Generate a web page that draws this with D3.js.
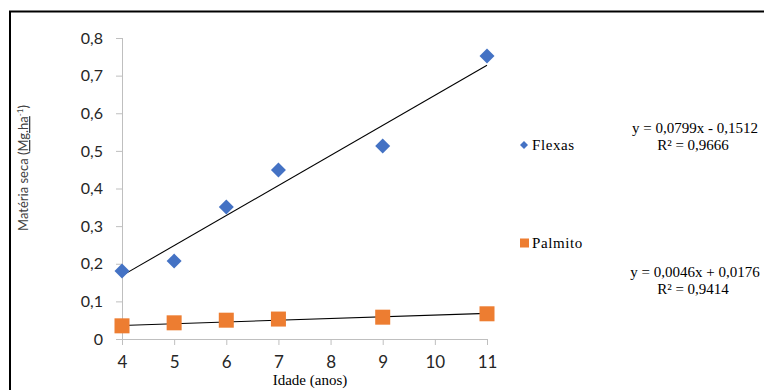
<!DOCTYPE html>
<html><head><meta charset="utf-8">
<script src="https://cdn.jsdelivr.net/npm/d3@7"></script>
<style>body{margin:0;background:#fff}svg{display:block}</style>
</head><body>
<script>
const ages = [4, 5, 6, 7, 9, 11];
const flexas = [0.181, 0.207, 0.351, 0.449, 0.513, 0.752];
const palmito = [0.035, 0.043, 0.050, 0.053, 0.058, 0.067];
const xTicks = [4, 5, 6, 7, 8, 9, 10, 11];
const yTicks = [0, 0.1, 0.2, 0.3, 0.4, 0.5, 0.6, 0.7, 0.8];
const seriesNames = ["Flexas", "Palmito"];
const slopes = [0.0799, 0.0046];
const intercepts = [-0.1512, 0.0176];
const eqLabels = ["y = 0,0799x - 0,1512", "y = 0,0046x + 0,0176"];
const r2Labels = ["R² = 0,9666", "R² = 0,9414"];
const colors = ["#4472c4", "#ed7d31"];

const W = 764, H = 390;
const svg = d3.select("body").append("svg").attr("width", W).attr("height", H);

// frame
svg.append("path").attr("d", `M10,${H} L10,11.5 L${W},11.5`).attr("fill","none").attr("stroke","#000").attr("stroke-width",2);

const x = d3.scaleLinear().domain([4, 11]).range([122, 487]);
const y = d3.scaleLinear().domain([0, 0.8]).range([339, 38]);
const fmt = d => d === 0 ? "0" : d3.format(".1f")(d).replace(".", ",");

const ya = svg.append("g").attr("transform", "translate(122,0)")
  .call(d3.axisLeft(y).tickValues(yTicks).tickFormat(fmt).tickSize(6).tickPadding(13));
const xa = svg.append("g").attr("transform", "translate(0,339)")
  .call(d3.axisBottom(x).tickValues(xTicks).tickFormat(d3.format("d")).tickSize(6).tickPadding(8));
[ya, xa].forEach(g => {
  g.selectAll("path,line").attr("stroke", "#bfbfbf");
  g.selectAll("text").attr("fill", "#262626").style("font-family", "Lato, 'Open Sans', sans-serif").style("font-size", "16px");
});
xa.selectAll("text").attr("dy", "0.9em").style("font-size", "17px");
ya.select(".domain").attr("d", "M0.5,38V339.5");

// trendlines
const series = [flexas, palmito];
series.forEach((s, i) => {
  svg.append("line")
    .attr("x1", x(4)).attr("y1", y(slopes[i] * 4 + intercepts[i]))
    .attr("x2", x(11)).attr("y2", y(slopes[i] * 11 + intercepts[i]))
    .attr("stroke", "#000").attr("stroke-width", 1.1);
});

// markers
const diamond = r => `M0,${-r}L${r},0L0,${r}L${-r},0Z`;
svg.append("g").selectAll("path").data(ages.map((a, i) => [a, flexas[i]])).join("path")
  .attr("transform", d => `translate(${x(d[0])},${y(d[1])})`)
  .attr("d", diamond(7.5)).attr("fill", colors[0]);
svg.append("g").selectAll("rect").data(ages.map((a, i) => [a, palmito[i]])).join("rect")
  .attr("x", d => x(d[0]) - 7.5).attr("y", d => y(d[1]) - 7.5)
  .attr("width", 15).attr("height", 15).attr("fill", colors[1]);

// axis titles
svg.append("text").attr("x", 310).attr("y", 385).attr("text-anchor", "middle")
  .style("font-family", "'Liberation Serif', serif").style("font-size", "15px").attr("fill", "#000")
  .text("Idade (anos)");
const yt = svg.append("text").attr("transform", "translate(28,168) rotate(-90)").attr("text-anchor", "middle")
  .style("font-family", "Lato, 'Open Sans', sans-serif").style("font-size", "13px").attr("fill", "#404040");
yt.append("tspan").text("Matéria seca (");
yt.append("tspan").style("text-decoration", "underline wavy #4472c4").text("Mg.ha");
yt.append("tspan").attr("dy", -5).style("font-size", "8px").text("-1");
yt.append("tspan").attr("dy", 5).text(")");

// legend
const legY = [145, 243];
svg.append("path").attr("transform", `translate(524,${legY[0]})`).attr("d", diamond(4)).attr("fill", colors[0]);
svg.append("rect").attr("x", 520).attr("y", legY[1] - 4.5).attr("width", 9).attr("height", 9).attr("fill", colors[1]);
seriesNames.forEach((n, i) => {
  svg.append("text").attr("x", 532).attr("y", legY[i] + 5)
    .style("font-family", "'Liberation Serif', serif").style("font-size", "15px").style("letter-spacing", "0.6px")
    .attr("fill", "#000").text(n);
});

// equations
const eqY = [133, 277];
eqLabels.forEach((t, i) => {
  svg.append("text").attr("x", 695).attr("y", eqY[i]).attr("text-anchor", "middle")
    .style("font-family", "'Liberation Serif', serif").style("font-size", "15px").attr("fill", "#000").text(t);
  svg.append("text").attr("x", 693).attr("y", eqY[i] + 17).attr("text-anchor", "middle")
    .style("font-family", "'Liberation Serif', serif").style("font-size", "15px").attr("fill", "#000").text(r2Labels[i]);
});
</script>
</body></html>
